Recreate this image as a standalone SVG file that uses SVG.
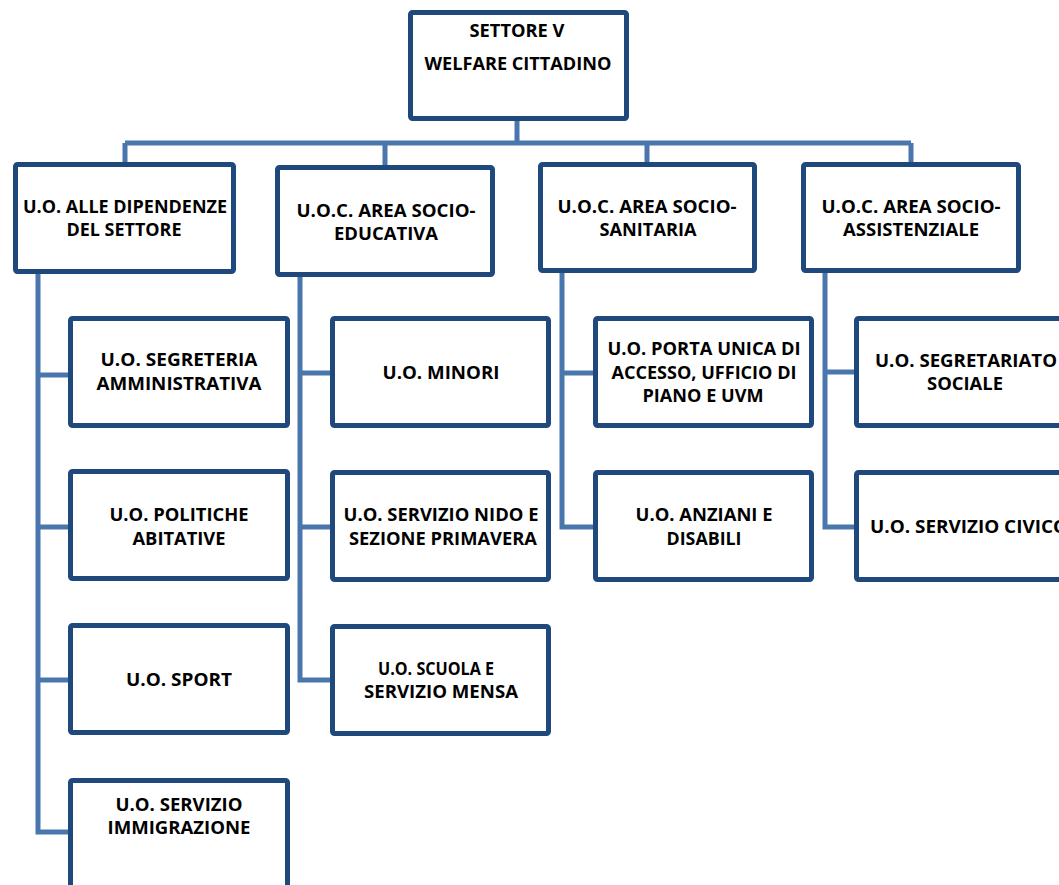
<svg xmlns="http://www.w3.org/2000/svg" width="1059" height="885" viewBox="0 0 1059 885">
  <style>
    .box { fill: #ffffff; stroke: #1f497d; stroke-width: 5; }
    .link { fill: none; stroke: #4a76ae; stroke-width: 5; stroke-linejoin: miter; }
    text { font-family: "Open Sans", "Liberation Sans", sans-serif; font-weight: 700; font-size: 18px; fill: #000000; text-anchor: middle; }
  </style>
  <rect width="1059" height="885" fill="#ffffff"/>

  <!-- connectors -->
  <g id="connectors">
    <path class="link" d="M517 121 V143 M125 143 H911 M125 143 V163 M385 143 V166 M647 143 V163 M911 143 V163"/>
    <path class="link" d="M38 274 V832 H68 M38 375 H68 M38 527 H68 M38 680 H68"/>
    <path class="link" d="M300 277 V680 H330 M300 373 H330 M300 527 H330"/>
    <path class="link" d="M562 273 V527 H593 M562 373 H593"/>
    <path class="link" d="M825 273 V527 H854 M825 372 H854"/>
  </g>

  <!-- root -->
  <g id="settore-v">
    <rect class="box" x="410.5" y="12.5" width="216" height="106" rx="2"/>
    <text x="517" y="37" textLength="95" lengthAdjust="spacingAndGlyphs">SETTORE V</text>
    <text x="518" y="70" textLength="187" lengthAdjust="spacingAndGlyphs">WELFARE CITTADINO</text>
  </g>

  <!-- first level -->
  <g id="uo-dipendenze">
    <rect class="box" x="15.5" y="164.5" width="218" height="107" rx="2"/>
    <text x="125" y="213" textLength="204" lengthAdjust="spacingAndGlyphs">U.O. ALLE DIPENDENZE</text>
    <text x="124" y="236" textLength="115" lengthAdjust="spacingAndGlyphs">DEL SETTORE</text>
  </g>
  <g id="uoc-socio-educativa">
    <rect class="box" x="277.5" y="167.5" width="215" height="107" rx="2"/>
    <text x="386" y="217" textLength="179" lengthAdjust="spacingAndGlyphs">U.O.C. AREA SOCIO-</text>
    <text x="386" y="240" textLength="104" lengthAdjust="spacingAndGlyphs">EDUCATIVA</text>
  </g>
  <g id="uoc-socio-sanitaria">
    <rect class="box" x="540.5" y="164.5" width="214" height="106" rx="2"/>
    <text x="647" y="213" textLength="179" lengthAdjust="spacingAndGlyphs">U.O.C. AREA SOCIO-</text>
    <text x="648" y="236" textLength="97" lengthAdjust="spacingAndGlyphs">SANITARIA</text>
  </g>
  <g id="uoc-socio-assistenziale">
    <rect class="box" x="803.5" y="164.5" width="215" height="106" rx="2"/>
    <text x="911" y="213" textLength="179" lengthAdjust="spacingAndGlyphs">U.O.C. AREA SOCIO-</text>
    <text x="911" y="236" textLength="136" lengthAdjust="spacingAndGlyphs">ASSISTENZIALE</text>
  </g>

  <!-- column 1 -->
  <g id="uo-segreteria">
    <rect class="box" x="70.5" y="318.5" width="217" height="107" rx="2"/>
    <text x="179" y="366" textLength="157" lengthAdjust="spacingAndGlyphs">U.O. SEGRETERIA</text>
    <text x="179" y="390" textLength="165" lengthAdjust="spacingAndGlyphs">AMMINISTRATIVA</text>
  </g>
  <g id="uo-politiche-abitative">
    <rect class="box" x="70.5" y="471.5" width="217" height="107" rx="2"/>
    <text x="179" y="521" textLength="139" lengthAdjust="spacingAndGlyphs">U.O. POLITICHE</text>
    <text x="179" y="545" textLength="93" lengthAdjust="spacingAndGlyphs">ABITATIVE</text>
  </g>
  <g id="uo-sport">
    <rect class="box" x="70.5" y="625.5" width="217" height="107" rx="2"/>
    <text x="179" y="686" textLength="106" lengthAdjust="spacingAndGlyphs">U.O. SPORT</text>
  </g>
  <g id="uo-immigrazione">
    <rect class="box" x="70.5" y="780.5" width="217" height="120" rx="2"/>
    <text x="179" y="811" textLength="127" lengthAdjust="spacingAndGlyphs">U.O. SERVIZIO</text>
    <text x="179" y="834" textLength="143" lengthAdjust="spacingAndGlyphs">IMMIGRAZIONE</text>
  </g>

  <!-- column 2 -->
  <g id="uo-minori">
    <rect class="box" x="332.5" y="318.5" width="216" height="107" rx="2"/>
    <text x="441" y="379" textLength="117" lengthAdjust="spacingAndGlyphs">U.O. MINORI</text>
  </g>
  <g id="uo-nido">
    <rect class="box" x="332.5" y="472.5" width="216" height="107" rx="2"/>
    <text x="441" y="521" textLength="195" lengthAdjust="spacingAndGlyphs">U.O. SERVIZIO NIDO E</text>
    <text x="443" y="545" textLength="188" lengthAdjust="spacingAndGlyphs">SEZIONE PRIMAVERA</text>
  </g>
  <g id="uo-scuola">
    <rect class="box" x="332.5" y="626.5" width="216" height="107" rx="2"/>
    <text x="436" y="675" textLength="116" lengthAdjust="spacingAndGlyphs">U.O. SCUOLA E</text>
    <text x="441" y="698" textLength="154" lengthAdjust="spacingAndGlyphs">SERVIZIO MENSA</text>
  </g>

  <!-- column 3 -->
  <g id="uo-porta-unica">
    <rect class="box" x="595.5" y="318.5" width="216" height="107" rx="2"/>
    <text x="704" y="355" textLength="193" lengthAdjust="spacingAndGlyphs">U.O. PORTA UNICA DI</text>
    <text x="704" y="379" textLength="185" lengthAdjust="spacingAndGlyphs">ACCESSO, UFFICIO DI</text>
    <text x="703" y="402" textLength="121" lengthAdjust="spacingAndGlyphs">PIANO E UVM</text>
  </g>
  <g id="uo-anziani">
    <rect class="box" x="595.5" y="472.5" width="216" height="107" rx="2"/>
    <text x="704" y="521" textLength="137" lengthAdjust="spacingAndGlyphs">U.O. ANZIANI E</text>
    <text x="704" y="545" textLength="75" lengthAdjust="spacingAndGlyphs">DISABILI</text>
  </g>

  <!-- column 4 -->
  <g id="uo-segretariato">
    <rect class="box" x="856.5" y="318.5" width="217" height="107" rx="2"/>
    <text x="966" y="367" textLength="182" lengthAdjust="spacingAndGlyphs">U.O. SEGRETARIATO</text>
    <text x="965" y="390" textLength="76" lengthAdjust="spacingAndGlyphs">SOCIALE</text>
  </g>
  <g id="uo-servizio-civico">
    <rect class="box" x="856.5" y="472.5" width="217" height="107" rx="2"/>
    <text x="969" y="533" textLength="198" lengthAdjust="spacingAndGlyphs">U.O. SERVIZIO CIVICO</text>
  </g>
</svg>
